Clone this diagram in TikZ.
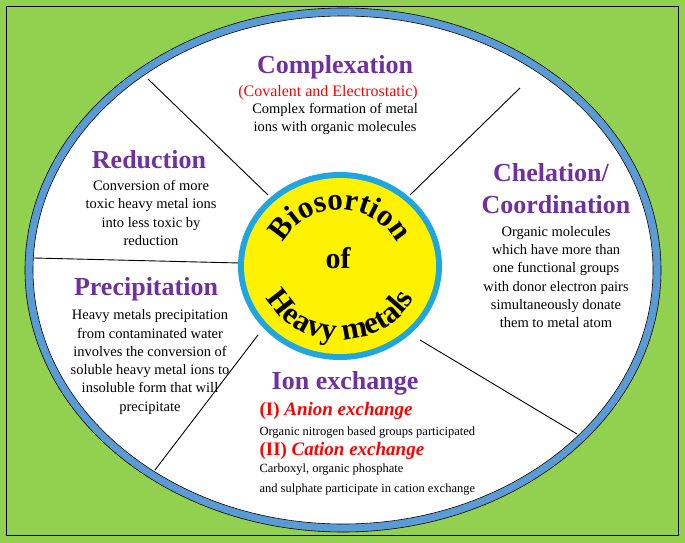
\documentclass[tikz,border=0pt]{standalone}
\usepackage{fontspec}
\setmainfont{Liberation Serif}
\usetikzlibrary{decorations.text}
\definecolor{bgg}{HTML}{92D050}
\definecolor{ringb}{HTML}{5B9BD5}
\definecolor{cring}{HTML}{1FA5E0}
\definecolor{ttl}{HTML}{7030A0}
\begin{document}
\begin{tikzpicture}[x=1pt,y=-1pt,
  ttlstyle/.style={font=\bfseries\fontsize{26}{28}\selectfont,text=ttl},
  body/.style={font=\fontsize{14.5}{18.3}\selectfont,align=center},
  sep/.style={draw=black,line width=0.9pt}]
\fill[bgg] (0,0) rectangle (685,543);
\useasboundingbox (0,0) rectangle (685,543);
\draw[line width=0.8pt] (6,6) rectangle (678,535);
\draw[fill=ringb,line width=0.6pt] (343,270) ellipse [x radius=318,y radius=262];
\draw[fill=white,line width=0.6pt] (343,270) ellipse [x radius=310,y radius=254];
\coordinate (a1) at (148,79); \coordinate (b1) at (268,195);
\coordinate (a2) at (34,258); \coordinate (b2) at (240,263);
\coordinate (a3) at (155,470); \coordinate (b3) at (258,335);
\coordinate (a4) at (577,434); \coordinate (b4) at (420,340);
\coordinate (a5) at (520,88); \coordinate (b5) at (410,195);
\foreach \i in {1,...,5} \draw[sep] (a\i) -- (b\i);
\fill[cring] (340,266) ellipse [x radius=102,y radius=94];
\fill[yellow] (340,266) ellipse [x radius=96,y radius=88];
\begin{scope}[shift={(340,266)},x=1pt,y=1pt]
\path[decorate,decoration={text along path,text={|\bfseries\fontsize{31}{31}\selectfont|Biosortion},text align=center}]
  (165:62 and 56) arc[start angle=165,end angle=15,x radius=62,y radius=56];
\path[decorate,decoration={text along path,text={|\bfseries\fontsize{31}{31}\selectfont|Heavy metals},text align=center}]
  (185:82 and 74) arc[start angle=185,end angle=355,x radius=82,y radius=74];
\end{scope}
\node[font=\bfseries\fontsize{30}{30}\selectfont] (of) at (338,258) {of};
\node[ttlstyle] (t1) at (335,67) {Complexation};
\node[text=red,font=\fontsize{16}{18}\selectfont] (s1) at (328,93) {(Covalent and Electrostatic)};
\node[body] (d1) at (335,119) {Complex formation of metal\\ions with organic molecules};
\node[ttlstyle] (t2) at (149,160) {Reduction};
\node[body] (d2) at (151,213) {Conversion of more\\toxic heavy metal ions\\into less toxic by\\reduction};
\node[ttlstyle] (t3) at (551,173) {Chelation/};
\node[ttlstyle] (t3b) at (556,205) {Coordination};
\node[body] (d3) at (556,277) {Organic molecules\\which have more than\\one functional groups\\with donor electron pairs\\simultaneously donate\\them to metal atom};
\node[ttlstyle] (t4) at (146,289) {Precipitation};
\node[body] (d4) at (150,362) {Heavy metals precipitation\\from contaminated water\\involves the conversion of\\soluble heavy metal ions to\\insoluble form that will\\precipitate};
\node[ttlstyle] (t5) at (345,383) {Ion exchange};
\node[anchor=west,text=red,font=\bfseries\fontsize{19}{21}\selectfont] (i1) at (256,411) {(I) \textit{Anion exchange}};
\node[anchor=west,font=\fontsize{12.5}{15}\selectfont] (i1d) at (256,433) {Organic nitrogen based groups participated};
\node[anchor=west,text=red,font=\bfseries\fontsize{19}{21}\selectfont] (i2) at (256,451) {(II) \textit{Cation exchange}};
\node[anchor=west,font=\fontsize{12.5}{20}\selectfont,align=left] (i2d) at (256,480) {Carboxyl, organic phosphate\\and sulphate participate in cation exchange};
\end{tikzpicture}
\end{document}
